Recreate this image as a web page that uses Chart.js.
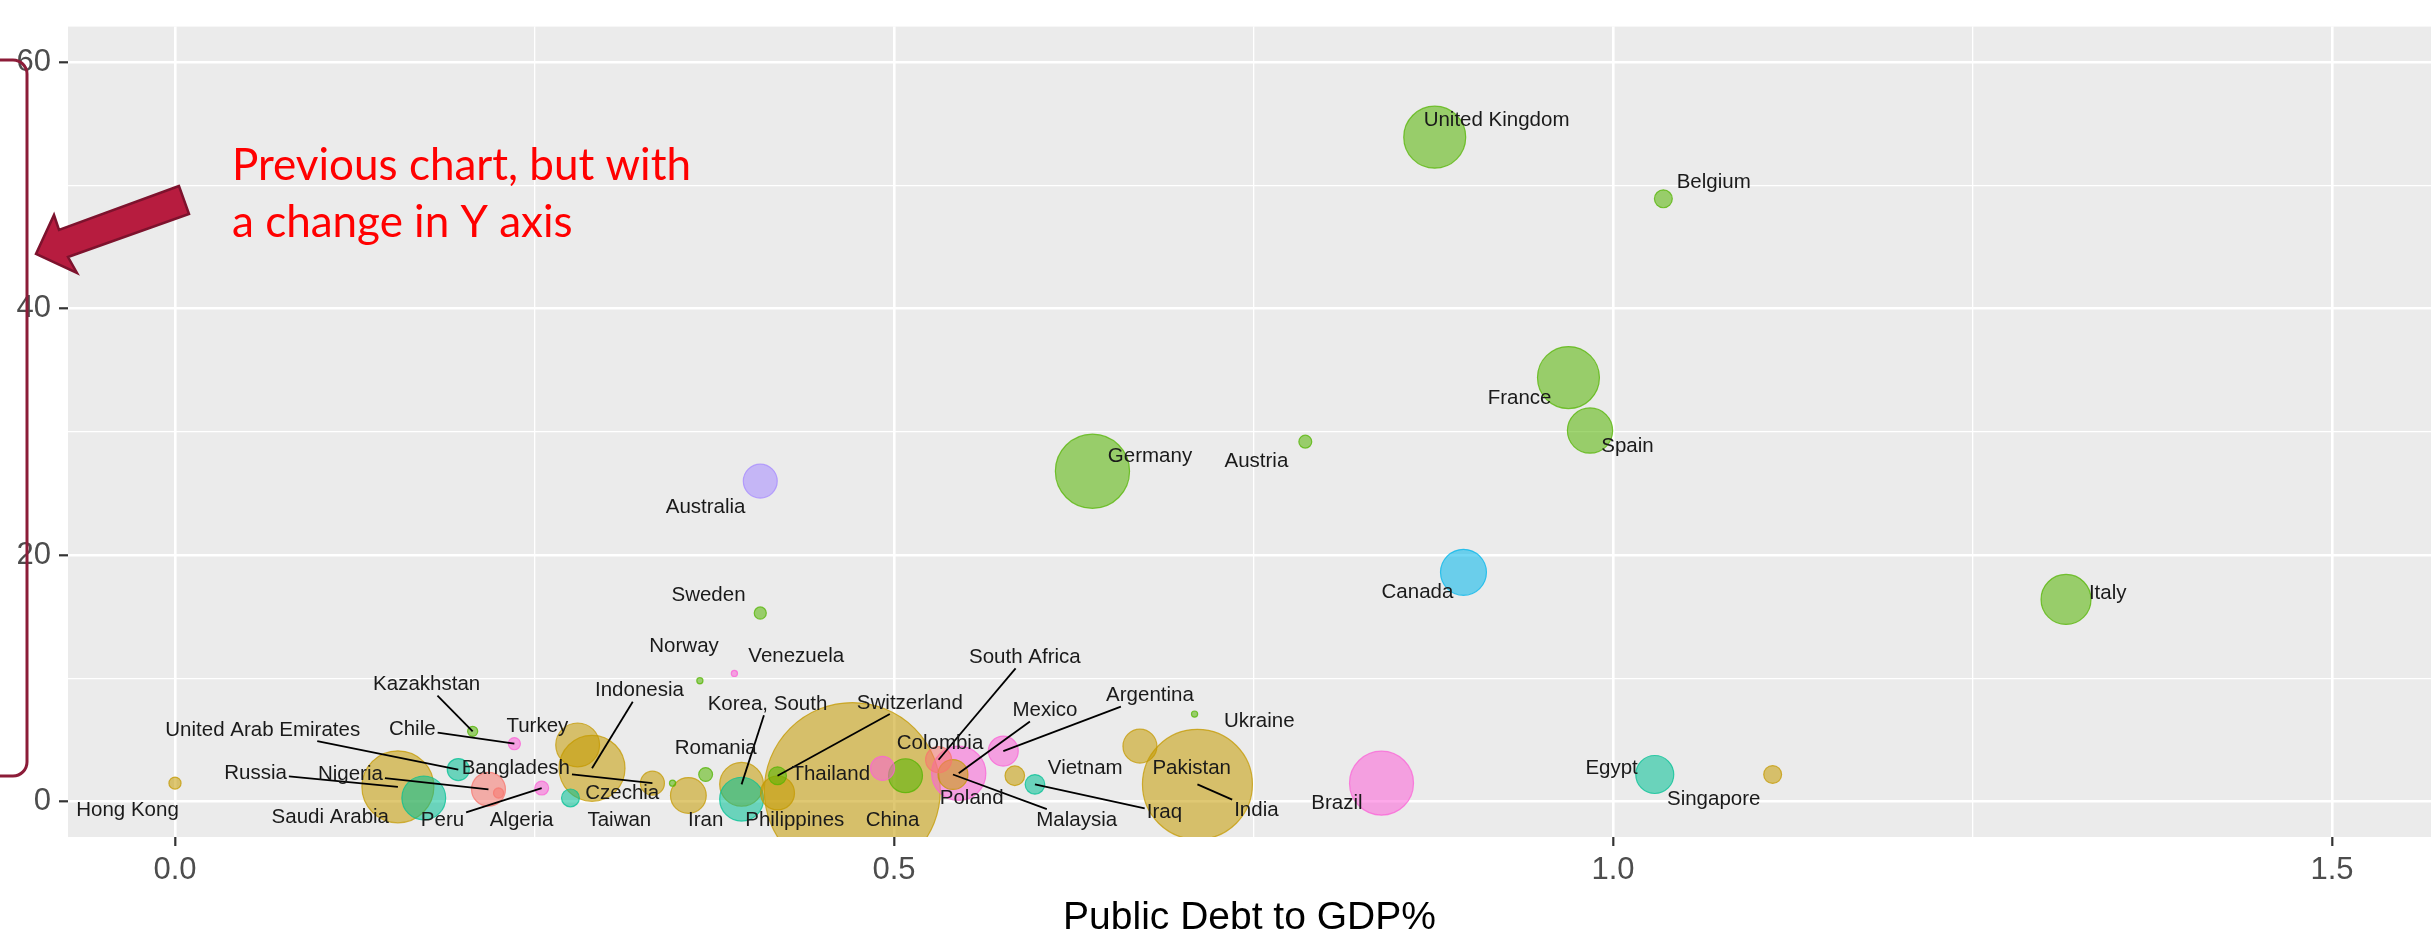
<!DOCTYPE html>
<html>
<head>
<meta charset="utf-8">
<script src="https://cdn.jsdelivr.net/npm/chart.js@4.4.0/dist/chart.umd.min.js"></script>
<style>
  html, body { margin: 0; padding: 0; background: #fff; }
  #wrap { width: 2431px; height: 937px; position: relative; }
</style>
</head>
<body>
<div id="wrap"><canvas id="chart"></canvas></div>
<script>
// Valores
const countries = ['United Kingdom', 'Belgium', 'France', 'Spain', 'Germany', 'Austria', 'Canada', 'Italy',
  'Australia', 'Sweden', 'Norway', 'Venezuela', 'Ukraine', 'Argentina', 'Mexico', 'South Africa',
  'Colombia', 'Poland', 'Switzerland', 'Thailand', 'Korea, South', 'Romania', 'Indonesia', 'Czechia',
  'Taiwan', 'Iran', 'Philippines', 'China', 'Malaysia', 'Iraq', 'India', 'Pakistan', 'Vietnam',
  'Brazil', 'Egypt', 'Singapore', 'Kazakhstan', 'United Arab Emirates', 'Chile', 'Turkey', 'Russia',
  'Nigeria', 'Bangladesh', 'Saudi Arabia', 'Peru', 'Algeria', 'Hong Kong'];

const debtToGdp = [0.876, 1.035, 0.969, 0.984, 0.638, 0.786, 0.896, 1.315,
  0.407, 0.407, 0.365, 0.389, 0.709, 0.576, 0.545, 0.531,
  0.492, 0.508, 0.419, 0.419, 0.394, 0.369, 0.290, 0.346,
  0.275, 0.357, 0.394, 0.471, 0.541, 0.598, 0.711, 0.671, 0.584,
  0.839, 1.029, 1.111, 0.207, 0.197, 0.236, 0.280, 0.155,
  0.218, 0.332, 0.173, 0.255, 0.225, 0.000];

const yValues = [53.9, 48.9, 34.4, 30.1, 26.8, 29.2, 18.6, 16.4,
  26.0, 15.3, 9.8, 10.4, 7.1, 4.1, 2.3, 3.4,
  2.7, 2.1, 2.1, 0.7, 1.4, 2.2, 2.7, 1.5,
  0.3, 0.5, 0.2, 0.9, 2.2, 1.4, 1.4, 4.5, 2.1,
  1.5, 2.2, 2.2, 5.7, 2.6, 4.7, 4.6, 1.2,
  1.0, 1.5, 0.3, 1.1, 0.7, 1.5];

const bubbleWeight = [60, 5, 60, 32, 86, 2.6, 33, 39,
  18, 2.3, 0.6, 0.6, 0.6, 14, 46, 10.6,
  9, 18, 5, 18, 30, 3, 68, 0.6,
  5, 20, 30, 484, 14, 6, 189, 18, 6,
  64, 22.6, 5, 1.6, 7.6, 2.3, 30, 81,
  18, 9, 30, 3, 1.6, 2.3];

const region = ['Europe', 'Europe', 'Europe', 'Europe', 'Europe', 'Europe', 'North America', 'Europe',
  'Oceania', 'Europe', 'Europe', 'South America', 'Europe', 'South America', 'South America', 'Africa',
  'South America', 'Europe', 'Europe', 'Asia', 'Asia', 'Europe', 'Asia', 'Europe',
  'Middle East', 'Asia', 'Middle East', 'Asia', 'Asia', 'Middle East', 'Asia', 'Asia', 'Asia',
  'South America', 'Middle East', 'Asia', 'Europe', 'Middle East', 'South America', 'Asia', 'Asia',
  'Africa', 'Asia', 'Middle East', 'South America', 'Africa', 'Asia'];

const xTicks = [0, 0.25, 0.5, 0.75, 1.0, 1.25, 1.5];
const xTickLabels = ['0.0', '', '0.5', '', '1.0', '', '1.5'];
const yTicks = [0, 10, 20, 30, 40, 50, 60];
const yTickLabels = ['0', '', '20', '', '40', '', '60'];

// cores padrão do ggplot (7 grupos)
const regionRgb = {
  'Africa': '248,118,109',
  'Asia': '196,154,0',
  'Europe': '83,180,0',
  'Middle East': '0,192,148',
  'North America': '0,182,235',
  'Oceania': '165,138,255',
  'South America': '251,97,215'
};

// posição dos rótulos (ggrepel) em unidades dos eixos, e quem tem linha
const labelAt = {
  'United Kingdom': [0.919, 55.3], 'Belgium': [1.070, 50.2], 'France': [0.935, 32.7],
  'Spain': [1.010, 28.8], 'Germany': [0.678, 28.0], 'Austria': [0.752, 27.6],
  'Canada': [0.864, 17.0], 'Italy': [1.344, 16.9], 'Australia': [0.369, 23.9],
  'Sweden': [0.371, 16.7], 'Norway': [0.354, 12.6], 'Venezuela': [0.432, 11.8],
  'Ukraine': [0.754, 6.5], 'Argentina': [0.678, 8.6], 'Mexico': [0.605, 7.4],
  'South Africa': [0.591, 11.7], 'Colombia': [0.532, 4.7], 'Poland': [0.554, 0.24],
  'Switzerland': [0.511, 8.0], 'Thailand': [0.456, 2.2], 'Korea, South': [0.412, 7.9],
  'Romania': [0.376, 4.3], 'Indonesia': [0.323, 9.0], 'Czechia': [0.311, 0.64],
  'Taiwan': [0.309, -1.5], 'Iran': [0.369, -1.5], 'Philippines': [0.431, -1.5],
  'China': [0.499, -1.5], 'Malaysia': [0.627, -1.5], 'Iraq': [0.688, -0.9],
  'India': [0.752, -0.7], 'Pakistan': [0.707, 2.7], 'Vietnam': [0.633, 2.7],
  'Brazil': [0.808, -0.1], 'Egypt': [0.999, 2.7], 'Singapore': [1.070, 0.16],
  'Kazakhstan': [0.175, 9.5], 'United Arab Emirates': [0.061, 5.8], 'Chile': [0.165, 5.9],
  'Turkey': [0.252, 6.1], 'Russia': [0.056, 2.3], 'Nigeria': [0.122, 2.2],
  'Bangladesh': [0.237, 2.7], 'Saudi Arabia': [0.108, -1.3], 'Peru': [0.186, -1.5],
  'Algeria': [0.241, -1.5], 'Hong Kong': [-0.033, -0.7]
};
const withLeader = ['Kazakhstan', 'United Arab Emirates', 'Chile', 'Russia', 'Nigeria', 'Bangladesh',
  'Indonesia', 'Korea, South', 'Switzerland', 'South Africa', 'Mexico', 'Argentina',
  'Malaysia', 'Iraq', 'India', 'Peru'];

const FONT = '"Liberation Sans", Arial, Helvetica, sans-serif';

function radiusFor(w) {
  return 4 * Math.sqrt(w);
}

// maiores primeiro, para as bolhas pequenas ficarem por cima
const order = countries.map((c, i) => i).sort((a, b) => bubbleWeight[b] - bubbleWeight[a]);

const points = order.map(i => ({
  x: debtToGdp[i], y: yValues[i], r: radiusFor(bubbleWeight[i]), name: countries[i], grp: region[i]
}));

const panelBg = {
  id: 'panelBg',
  beforeDraw(chart) {
    const { ctx, chartArea: a } = chart;
    ctx.save();
    ctx.fillStyle = '#EBEBEB';
    ctx.fillRect(a.left, a.top, a.right - a.left, a.bottom - a.top);
    ctx.restore();
  }
};

// ponto onde a reta centro-do-rótulo -> ponto sai da caixa do rótulo
function boxExit(lx, ly, hw, hh, px, py) {
  const dx = px - lx, dy = py - ly;
  let t = 1;
  if (dx !== 0) t = Math.min(t, hw / Math.abs(dx));
  if (dy !== 0) t = Math.min(t, hh / Math.abs(dy));
  return [lx + dx * t, ly + dy * t];
}

const repelLabels = {
  id: 'repelLabels',
  afterDatasetsDraw(chart) {
    const { ctx, scales: { x, y }, chartArea: a } = chart;
    ctx.save();
    ctx.beginPath();
    ctx.rect(a.left, a.top, a.right - a.left, a.bottom - a.top);
    ctx.clip();
    ctx.font = '20.5px ' + FONT;
    ctx.textAlign = 'center';
    ctx.textBaseline = 'middle';

    countries.forEach((name, i) => {
      const pos = labelAt[name];
      if (!pos || !withLeader.includes(name)) return;
      const lx = x.getPixelForValue(pos[0]);
      const ly = y.getPixelForValue(pos[1]);
      const px = x.getPixelForValue(debtToGdp[i]);
      const py = y.getPixelForValue(yValues[i]);
      const s = boxExit(lx, ly, ctx.measureText(name).width / 2 + 2, 11, px, py);
      ctx.strokeStyle = '#000';
      ctx.lineWidth = 1.8;
      ctx.beginPath();
      ctx.moveTo(s[0], s[1]);
      ctx.lineTo(px, py);
      ctx.stroke();
    });

    ctx.fillStyle = '#1a1a1a';
    countries.forEach(name => {
      const pos = labelAt[name];
      if (!pos) return;
      ctx.fillText(name, x.getPixelForValue(pos[0]), y.getPixelForValue(pos[1]));
    });
    ctx.restore();
  }
};

// seta, colchete e texto em vermelho por cima do gráfico
const slideNote = {
  id: 'slideNote',
  afterDraw(chart) {
    const ctx = chart.ctx;
    ctx.save();

    ctx.strokeStyle = '#8C1C38';
    ctx.lineWidth = 3;
    ctx.beginPath();
    ctx.moveTo(0, 60);
    ctx.lineTo(13, 60);
    ctx.arcTo(27, 60, 27, 74, 14);
    ctx.lineTo(27, 762);
    ctx.arcTo(27, 776, 13, 776, 14);
    ctx.lineTo(0, 776);
    ctx.stroke();

    const arrow = [[179, 186], [59, 230], [54, 215], [36, 254], [77, 273], [68, 257], [189, 214]];
    ctx.beginPath();
    arrow.forEach((p, i) => i ? ctx.lineTo(p[0], p[1]) : ctx.moveTo(p[0], p[1]));
    ctx.closePath();
    ctx.fillStyle = '#B71C3F';
    ctx.fill();
    ctx.strokeStyle = '#7D122D';
    ctx.lineWidth = 2.5;
    ctx.lineJoin = 'miter';
    ctx.stroke();

    ctx.font = '44px Lato, "Open Sans", sans-serif';
    ctx.fillStyle = '#FF0000';
    ctx.textAlign = 'left';
    ctx.textBaseline = 'alphabetic';
    const line1 = 'Previous chart, but with';
    const line2 = 'a change in Y axis';
    const sx = 459 / ctx.measureText(line1).width;
    ctx.translate(232, 0);
    ctx.scale(sx, 1);
    ctx.fillText(line1, 0, 180);
    ctx.fillText(line2, 0, 237);
    ctx.restore();
  }
};

function isMajor(labels, idx) {
  return labels[idx] !== undefined && labels[idx] !== '';
}

new Chart(document.getElementById('chart'), {
  type: 'bubble',
  data: {
    datasets: [{
      data: points,
      backgroundColor: c => 'rgba(' + regionRgb[c.raw.grp] + ',0.55)',
      borderColor: c => 'rgba(' + regionRgb[c.raw.grp] + ',0.75)',
      borderWidth: 1.2,
      clip: 0
    }]
  },
  options: {
    responsive: true,
    maintainAspectRatio: false,
    devicePixelRatio: 1,
    animation: false,
    layout: { autoPadding: false, padding: { top: 12, right: 0, left: 0, bottom: 0 } },
    plugins: {
      legend: { display: false },
      tooltip: { enabled: false }
    },
    scales: {
      x: {
        type: 'linear',
        min: -0.0744,
        max: 1.5688,
        afterBuildTicks: s => { s.ticks = xTicks.map(v => ({ value: v })); },
        afterFit: s => { s.height = 100; },
        ticks: {
          autoSkip: false,
          maxRotation: 0,
          padding: 6,
          color: '#4D4D4D',
          font: { size: 31, family: FONT },
          callback: (v, i) => xTickLabels[i]
        },
        grid: {
          color: '#FFFFFF',
          lineWidth: c => isMajor(xTickLabels, c.index) ? 2.6 : 1.3,
          tickColor: c => isMajor(xTickLabels, c.index) ? '#333333' : 'rgba(0,0,0,0)',
          tickLength: 9,
          tickWidth: 2.2
        },
        border: { display: false },
        title: {
          display: true,
          text: 'Public Debt to GDP%',
          color: '#000000',
          font: { size: 39, family: FONT, lineHeight: 0.95 },
          padding: 0
        }
      },
      y: {
        type: 'linear',
        min: -2.87,
        max: 62.87,
        afterBuildTicks: s => { s.ticks = yTicks.map(v => ({ value: v })); },
        afterFit: s => { s.width = 68; },
        ticks: {
          autoSkip: false,
          padding: 8,
          color: '#4D4D4D',
          font: { size: 31, family: FONT },
          callback: (v, i) => yTickLabels[i]
        },
        grid: {
          color: '#FFFFFF',
          lineWidth: c => isMajor(yTickLabels, c.index) ? 2.6 : 1.3,
          tickColor: c => isMajor(yTickLabels, c.index) ? '#333333' : 'rgba(0,0,0,0)',
          tickLength: 9,
          tickWidth: 2.2
        },
        border: { display: false }
      }
    }
  },
  plugins: [panelBg, repelLabels, slideNote]
});
</script>
</body>
</html>
